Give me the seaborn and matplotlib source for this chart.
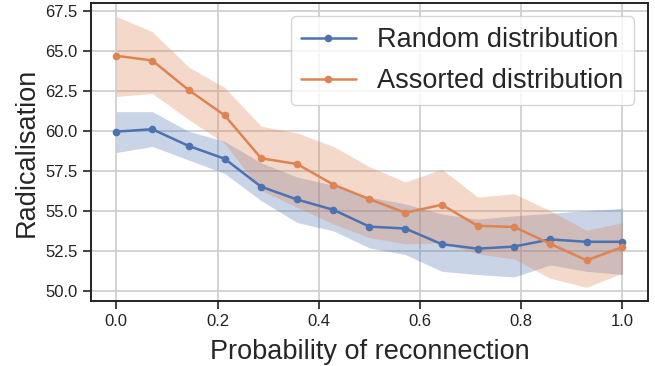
import numpy as np
import pandas as pd
import matplotlib
matplotlib.use("Agg")
import matplotlib.pyplot as plt
import seaborn as sns

# ---------------------------------------------------
# Data
# ---------------------------------------------------

prob = [0.0, 0.071, 0.143, 0.214, 0.286, 0.357, 0.429, 0.5,
        0.571, 0.643, 0.714, 0.786, 0.857, 0.929, 1.0]

random_mean = [59.95, 60.1, 59.05, 58.25, 56.5, 55.7, 55.05, 54.0,
               53.88, 52.9, 52.62, 52.75, 53.2, 53.05, 53.05]
random_low = [58.64, 59.02, 58.17, 57.33, 55.63, 54.26, 53.73, 52.67,
              52.25, 51.2, 51.0, 50.85, 51.6, 51.2, 51.0]
random_high = [61.2, 61.2, 59.97, 59.34, 57.99, 57.11, 56.59, 55.85,
               55.42, 54.79, 54.47, 54.68, 54.83, 55.0, 55.14]

assorted_mean = [64.7, 64.4, 62.55, 60.97, 58.28, 57.92, 56.63, 55.72,
                 54.87, 55.37, 54.05, 53.98, 52.93, 51.89, 52.72]
assorted_low = [62.15, 62.34, 60.7, 59.2, 56.27, 55.21, 54.16, 53.31,
                52.92, 52.99, 52.3, 51.97, 50.77, 50.2, 51.09]
assorted_high = [67.16, 66.21, 63.99, 62.72, 60.29, 59.87, 59.02, 57.75,
                 56.8, 57.6, 55.85, 56.06, 55.0, 53.77, 54.25]

labels = ["Random distribution", "Assorted distribution"]

# ---------------------------------------------------
# Plot
# ---------------------------------------------------

sns.set_theme(style="ticks", rc={"axes.grid": True})
plt.rcParams["font.family"] = ["Liberation Sans", "DejaVu Sans"]

df = pd.DataFrame({
    "prob": prob * 2,
    "rad": random_mean + assorted_mean,
    "dist": [labels[0]] * len(prob) + [labels[1]] * len(prob),
})

colors = sns.color_palette("deep")[:2]

fig, ax = plt.subplots(figsize=(6.55, 3.66), dpi=100)
fig.subplots_adjust(left=0.139, right=0.989, bottom=0.178, top=0.992)

sns.lineplot(data=df, x="prob", y="rad", hue="dist", palette=colors,
             marker="o", markersize=5.5, markeredgewidth=0, linewidth=1.8,
             ax=ax)

ax.fill_between(prob, random_low, random_high, color=colors[0], alpha=0.3, linewidth=0)
ax.fill_between(prob, assorted_low, assorted_high, color=colors[1], alpha=0.3, linewidth=0)

ax.set_xticks([0.0, 0.2, 0.4, 0.6, 0.8, 1.0])
ax.set_yticks([50.0, 52.5, 55.0, 57.5, 60.0, 62.5, 65.0, 67.5])
ax.set_xlabel("Probability of reconnection", fontsize=19.5, labelpad=7)
ax.set_ylabel("Radicalisation", fontsize=19.5, labelpad=4)
ax.tick_params(labelsize=12, length=6, width=1.2, colors="#222222")
for s in ax.spines.values():
    s.set_linewidth(1.4)
    s.set_color("#222222")
ax.grid(True, color="#d0d0d0", linewidth=1.3)

leg = ax.legend(title=None, fontsize=19.5, loc="upper right", labelspacing=0.55)

plt.savefig("out.png", dpi=100)
plt.close()
